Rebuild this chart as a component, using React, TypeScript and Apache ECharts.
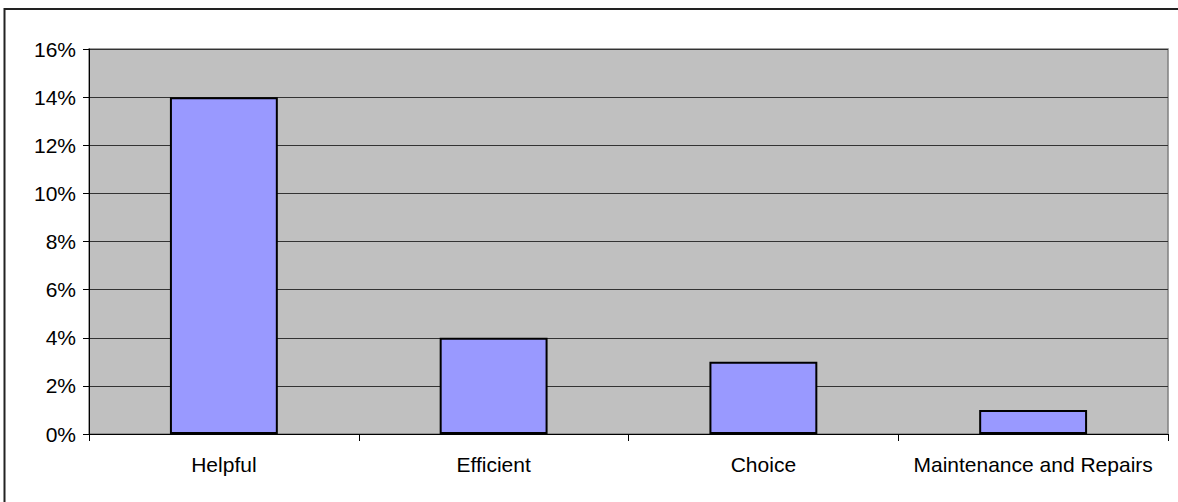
import React, { useEffect, useRef } from "react";
import * as echarts from "echarts";

const categories = ["Helpful", "Efficient", "Choice", "Maintenance and Repairs"];
const values = [14, 4, 3, 1];
const yMin = 0;
const yMax = 16;
const yInterval = 2;

export default function App() {
  const ref = useRef<HTMLDivElement>(null);
  useEffect(() => {
    if (!ref.current) return;
    const chart = echarts.init(ref.current, null, { renderer: "svg" });
    const font = "'Liberation Sans', Arial, sans-serif";
    chart.setOption({
      animation: false,
      backgroundColor: "#ffffff",
      graphic: [
        {
          type: "polyline",
          shape: { points: [[4.5, 520], [4.5, 9], [1200, 9]] },
          style: { fill: "none", stroke: "#222", lineWidth: 2 },
          silent: true,
        },
      ],
      grid: {
        left: 89,
        top: 49,
        right: 10,
        bottom: 68,
        show: true,
        backgroundColor: "#C0C0C0",
        borderColor: "#808080",
        borderWidth: 1.5,
      },
      xAxis: {
        type: "category",
        data: categories,
        axisLine: { show: true, lineStyle: { color: "#000", width: 1 } },
        axisTick: { show: true, length: 7, alignWithLabel: false, lineStyle: { color: "#000" } },
        axisLabel: { color: "#000", fontSize: 21, fontFamily: font, margin: 20, interval: 0 },
        splitLine: { show: false },
      },
      yAxis: {
        type: "value",
        min: yMin,
        max: yMax,
        interval: yInterval,
        axisLine: { show: true, lineStyle: { color: "#000", width: 1 } },
        axisTick: { show: true, length: 6, lineStyle: { color: "#000" } },
        axisLabel: { color: "#000", fontSize: 21, fontFamily: font, margin: 13, formatter: "{value}%" },
        splitLine: { show: true, lineStyle: { color: "#333", width: 1 } },
      },
      series: [
        {
          type: "bar",
          data: values,
          barCategoryGap: "60%",
          itemStyle: { color: "#9999FF", borderColor: "#000", borderWidth: 2 },
        },
      ],
    });
    return () => chart.dispose();
  }, []);
  return (
    <div
      ref={ref}
      style={{ position: "absolute", left: 0, top: 0, width: 1178, height: 502 }}
    />
  );
}
